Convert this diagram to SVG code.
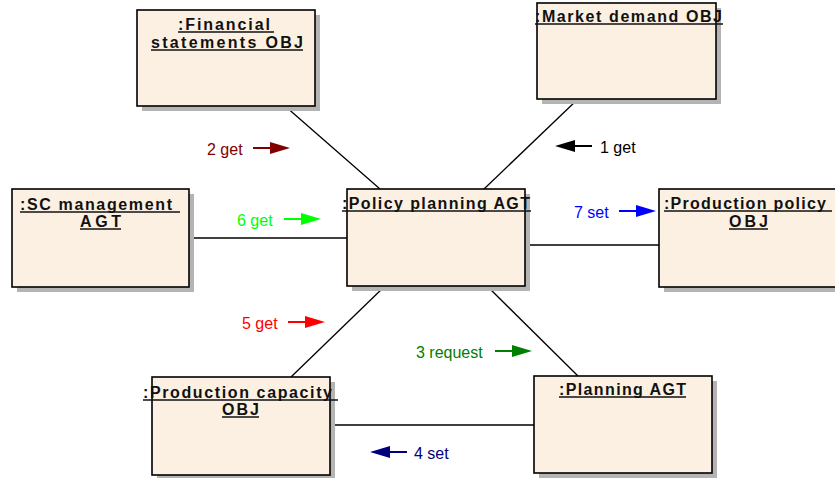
<svg xmlns="http://www.w3.org/2000/svg" xmlns:xlink="http://www.w3.org/1999/xlink" width="835" height="478" viewBox="0 0 835 478">
  <style>
    .shadow { fill: #b4b4b4; }
    .box { fill: #fbf0e1; stroke: #000; stroke-width: 1.6; }
    .title { font-family: "Liberation Sans", Arial, sans-serif; font-size: 16px; font-weight: bold; fill: #111; }
    .uline { stroke: #111; stroke-width: 1.3; }
    .link { stroke: #000; stroke-width: 1.3; fill: none; }
    .msg { font-family: "Liberation Sans", Arial, sans-serif; font-size: 16px; }
  </style>
  <defs>
    <!-- message arrow pointing right, origin at tail -->
    <g id="arrowR" fill="currentColor" stroke="currentColor">
      <line x1="0" y1="0" x2="19" y2="0" stroke-width="2"/>
      <polygon points="17,-6 37,0 17,6" stroke="none"/>
    </g>
    <!-- message arrow pointing left, origin at tip -->
    <g id="arrowL" fill="currentColor" stroke="currentColor">
      <polygon points="0,0 20,-6 20,6" stroke="none"/>
      <line x1="18" y1="0" x2="37" y2="0" stroke-width="2"/>
    </g>
  </defs>

  <rect width="835" height="478" fill="#fff"/>

  <!-- links between objects -->
  <g id="connectors">
    <line class="link" x1="285" y1="106" x2="380" y2="189"/>
    <line class="link" x1="578" y1="99" x2="484" y2="189"/>
    <line class="link" x1="189" y1="238" x2="347" y2="238"/>
    <line class="link" x1="525" y1="245" x2="659" y2="245"/>
    <line class="link" x1="385" y1="286" x2="291" y2="377"/>
    <line class="link" x1="487" y1="286" x2="578" y2="376"/>
    <line class="link" x1="330" y1="425" x2="534" y2="425"/>
  </g>

  <g id="financial-statements">
    <rect class="shadow" x="142" y="15" width="178" height="96"/>
    <rect class="box" x="137" y="10" width="178" height="96"/>
    <text class="title" x="178" y="30" textLength="92" lengthAdjust="spacing">:Financial</text>
    <line class="uline" x1="178" y1="32" x2="274" y2="32"/>
    <text class="title" x="151" y="48" textLength="152" lengthAdjust="spacing">statements OBJ</text>
    <line class="uline" x1="151" y1="50" x2="303" y2="50"/>
  </g>

  <g id="market-demand">
    <rect class="shadow" x="542" y="8" width="179" height="96"/>
    <rect class="box" x="537" y="3" width="179" height="96"/>
    <text class="title" x="535" y="22" textLength="187" lengthAdjust="spacing">:Market demand OBJ</text>
    <line class="uline" x1="535" y1="24" x2="723" y2="24"/>
  </g>

  <g id="sc-management">
    <rect class="shadow" x="17" y="194" width="177" height="98"/>
    <rect class="box" x="12" y="189" width="177" height="98"/>
    <text class="title" x="20" y="210" textLength="152" lengthAdjust="spacing">:SC management</text>
    <line class="uline" x1="20" y1="212" x2="180" y2="212"/>
    <text class="title" x="80" y="227" textLength="41" lengthAdjust="spacing">AGT</text>
    <line class="uline" x1="80" y1="229" x2="121" y2="229"/>
  </g>

  <g id="policy-planning">
    <rect class="shadow" x="352" y="194" width="178" height="97"/>
    <rect class="box" x="347" y="189" width="178" height="97"/>
    <text class="title" x="342" y="209" textLength="188" lengthAdjust="spacing">:Policy planning AGT</text>
    <line class="uline" x1="342" y1="211" x2="531" y2="211"/>
  </g>

  <g id="production-policy">
    <rect class="shadow" x="664" y="194" width="180" height="98"/>
    <rect class="box" x="659" y="189" width="180" height="98"/>
    <text class="title" x="664" y="209" textLength="162" lengthAdjust="spacing">:Production policy</text>
    <line class="uline" x1="664" y1="211" x2="832" y2="211"/>
    <text class="title" x="729" y="227" textLength="39" lengthAdjust="spacing">OBJ</text>
    <line class="uline" x1="729" y1="229" x2="768" y2="229"/>
  </g>

  <g id="production-capacity">
    <rect class="shadow" x="157" y="382" width="178" height="98"/>
    <rect class="box" x="152" y="377" width="178" height="98"/>
    <text class="title" x="143" y="398" textLength="189" lengthAdjust="spacing">:Production capacity</text>
    <line class="uline" x1="143" y1="400" x2="338" y2="400"/>
    <text class="title" x="222" y="415" textLength="37" lengthAdjust="spacing">OBJ</text>
    <line class="uline" x1="222" y1="417" x2="259" y2="417"/>
  </g>

  <g id="planning-agt">
    <rect class="shadow" x="539" y="381" width="178" height="97"/>
    <rect class="box" x="534" y="376" width="178" height="97"/>
    <text class="title" x="559" y="395" textLength="127" lengthAdjust="spacing">:Planning AGT</text>
    <line class="uline" x1="559" y1="397" x2="686" y2="397"/>
  </g>

  <!-- message labels with direction arrows -->
  <g id="messages" class="msg">
    <g style="color:#800000">
      <text x="207" y="155" fill="#800000">2 get</text>
      <use xlink:href="#arrowR" href="#arrowR" x="253" y="148"/>
    </g>
    <g style="color:#000">
      <use xlink:href="#arrowL" href="#arrowL" x="555" y="146"/>
      <text x="600" y="153" fill="#000">1 get</text>
    </g>
    <g style="color:#00ff00">
      <text x="237" y="226" fill="#00ff00">6 get</text>
      <use xlink:href="#arrowR" href="#arrowR" x="284" y="219"/>
    </g>
    <g style="color:#0000ff">
      <text x="574" y="218" fill="#0000ff">7 set</text>
      <use xlink:href="#arrowR" href="#arrowR" x="619" y="211"/>
    </g>
    <g style="color:#ff0000">
      <text x="242" y="329" fill="#ff0000">5 get</text>
      <use xlink:href="#arrowR" href="#arrowR" x="288" y="322"/>
    </g>
    <g style="color:#008000">
      <text x="416" y="358" fill="#008000">3 request</text>
      <use xlink:href="#arrowR" href="#arrowR" x="495" y="351"/>
    </g>
    <g style="color:#000080">
      <use xlink:href="#arrowL" href="#arrowL" x="370" y="452"/>
      <text x="414" y="459" fill="#000080">4 set</text>
    </g>
  </g>
</svg>
